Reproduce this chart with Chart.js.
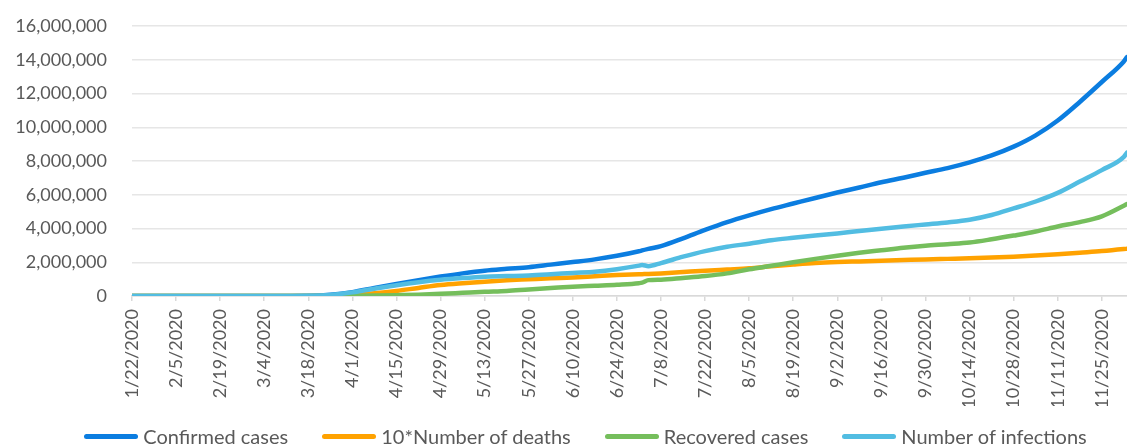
<!DOCTYPE html>
<html>
<head>
<meta charset="utf-8">
<script src="https://cdn.jsdelivr.net/npm/chart.js@4.4.1/dist/chart.umd.min.js"></script>
<style>
    html, body { margin: 0; padding: 0; background: #fff; }
    #chart-div { position: relative; width: 1127px; height: 445px; }
    #legend-div {
        position: absolute; left: 44px; right: 0; top: 424px; height: 24px;
        display: flex; justify-content: center; align-items: center; gap: 34px;
        font-family: Lato; font-size: 20px; color: #595959;
    }
    #legend-div .item { display: flex; align-items: center; white-space: nowrap; }
    #legend-div .swatch { display: inline-block; width: 54px; height: 5px; border-radius: 3px; margin-right: 5px; }
</style>
</head>
<body>
<div id="chart-div"><canvas id="chart"></canvas><div id="legend-div"></div></div>
<script>
// days counted from 1/22/2020
const days = [0, 7, 14, 21, 28, 35, 42, 49, 56, 63, 70, 77, 84, 91, 98, 105, 112, 119, 126, 133, 140, 147, 154, 161, 162, 164,
    168, 175, 182, 189, 196, 203, 210, 217, 224, 231, 238, 245, 252, 259, 266, 273, 280, 287, 294, 301, 308, 315, 316];

const confirmed = [0, 0, 0, 0, 0, 0, 100, 1300, 9000, 70000, 230000, 480000, 720000, 940000, 1150000, 1340000, 1500000,
    1610000, 1710000, 1860000, 2010000, 2170000, 2380000, 2650000, 2700000, 2790000,
    2960000, 3420000, 3920000, 4380000, 4780000, 5150000, 5480000, 5810000, 6130000, 6430000, 6740000, 7010000, 7300000,
    7580000, 7920000, 8330000, 8850000, 9520000, 10400000, 11500000, 12680000, 13900000, 14150000];

const deaths_x10 = [0, 0, 0, 0, 0, 0, 0, 300, 1500, 12000, 60000, 160000, 300000, 480000, 650000, 760000, 850000,
    930000, 990000, 1050000, 1100000, 1170000, 1240000, 1290000, 1295000, 1305000,
    1340000, 1420000, 1500000, 1570000, 1640000, 1760000, 1860000, 1950000, 2010000, 2050000, 2090000, 2130000, 2170000,
    2200000, 2230000, 2280000, 2330000, 2400000, 2480000, 2570000, 2660000, 2780000, 2800000];

const recovered = [0, 0, 0, 0, 0, 0, 0, 0, 0, 0, 10000, 25000, 50000, 80000, 130000, 190000, 250000,
    300000, 390000, 470000, 550000, 610000, 670000, 760000, 790000, 940000,
    970000, 1070000, 1180000, 1340000, 1580000, 1790000, 2000000, 2200000, 2390000, 2560000, 2710000, 2860000, 2980000,
    3070000, 3170000, 3360000, 3580000, 3820000, 4120000, 4380000, 4720000, 5350000, 5450000];

const infections = [0, 0, 0, 0, 0, 0, 0, 0, 8000, 65000, 215000, 430000, 640000, 820000, 960000, 1060000, 1140000,
    1180000, 1220000, 1290000, 1370000, 1440000, 1590000, 1800000, 1840000, 1770000,
    1950000, 2330000, 2660000, 2920000, 3100000, 3300000, 3450000, 3590000, 3710000, 3850000, 3990000, 4120000, 4240000,
    4360000, 4520000, 4800000, 5190000, 5600000, 6110000, 6780000, 7460000, 8250000, 8500000];

const series_names = ['Confirmed cases', '10*Number of deaths', 'Recovered cases', 'Number of infections'];
const series_colors = ['#0B7DE0', '#FFA200', '#75BE5C', '#52BDE2'];

const x_last_day = 316, x_step = 14;
const y_max = 16000000, y_step = 2000000;

const text_color = '#595959';
const font = { family: 'Lato', size: 18 };

const dayLabel = d => {
    const t = new Date(2020, 0, 22 + d);
    return (t.getMonth() + 1) + '/' + t.getDate() + '/' + t.getFullYear();
};

const toPoints = values => values.map((v, i) => ({ x: days[i], y: v }));

const datasets = [confirmed, deaths_x10, recovered, infections].map((values, i) => ({
    label: series_names[i],
    data: toPoints(values),
    borderColor: series_colors[i],
    backgroundColor: series_colors[i],
    // later series are painted over earlier ones
    order: 3 - i
}));

// legend under the plot, built from the datasets
const htmlLegend = {
    id: 'htmlLegend',
    afterUpdate(chart) {
        const box = document.getElementById('legend-div');
        box.innerHTML = '';
        chart.data.datasets.forEach(ds => {
            const item = document.createElement('span');
            item.className = 'item';
            const swatch = document.createElement('span');
            swatch.className = 'swatch';
            swatch.style.background = ds.borderColor;
            item.appendChild(swatch);
            item.appendChild(document.createTextNode(ds.label));
            box.appendChild(item);
        });
    }
};

const chart_config = {
    type: 'line',
    data: { datasets },
    options: {
        responsive: true,
        maintainAspectRatio: false,
        animation: false,
        layout: { padding: { top: 26, left: 0, right: 0, bottom: 39 } },
        elements: {
            point: { radius: 0 },
            line: {
                borderWidth: 4.5,
                cubicInterpolationMode: 'monotone',
                borderCapStyle: 'round',
                borderJoinStyle: 'round'
            }
        },
        scales: {
            x: {
                type: 'linear',
                min: 0,
                max: x_last_day,
                // fixed axis box: plot runs to the right edge
                afterFit: s => { s.height = 110; s.paddingLeft = 0; s.paddingRight = 0; },
                grid: { drawOnChartArea: false, drawTicks: true, tickLength: 5, color: '#D9D9D9', lineWidth: 1.5 },
                border: { color: '#D9D9D9', width: 1.5 },
                ticks: {
                    stepSize: x_step,
                    includeBounds: false,
                    autoSkip: false,
                    minRotation: 90,
                    maxRotation: 90,
                    padding: 8,
                    color: text_color,
                    font,
                    callback: v => dayLabel(v)
                }
            },
            y: {
                min: 0,
                max: y_max,
                afterFit: s => { s.width = 132; s.paddingTop = 0; s.paddingBottom = 0; },
                grid: { color: '#E6E6E6', lineWidth: 1.5, drawTicks: false },
                border: { display: false },
                ticks: {
                    stepSize: y_step,
                    padding: 25,
                    color: text_color,
                    font,
                    callback: v => v.toLocaleString('en-US')
                }
            }
        },
        plugins: {
            tooltip: { enabled: false },
            legend: { display: false }
        }
    },
    plugins: [htmlLegend]
};

const chart = new Chart(document.getElementById('chart'), chart_config);
</script>
</body>
</html>
